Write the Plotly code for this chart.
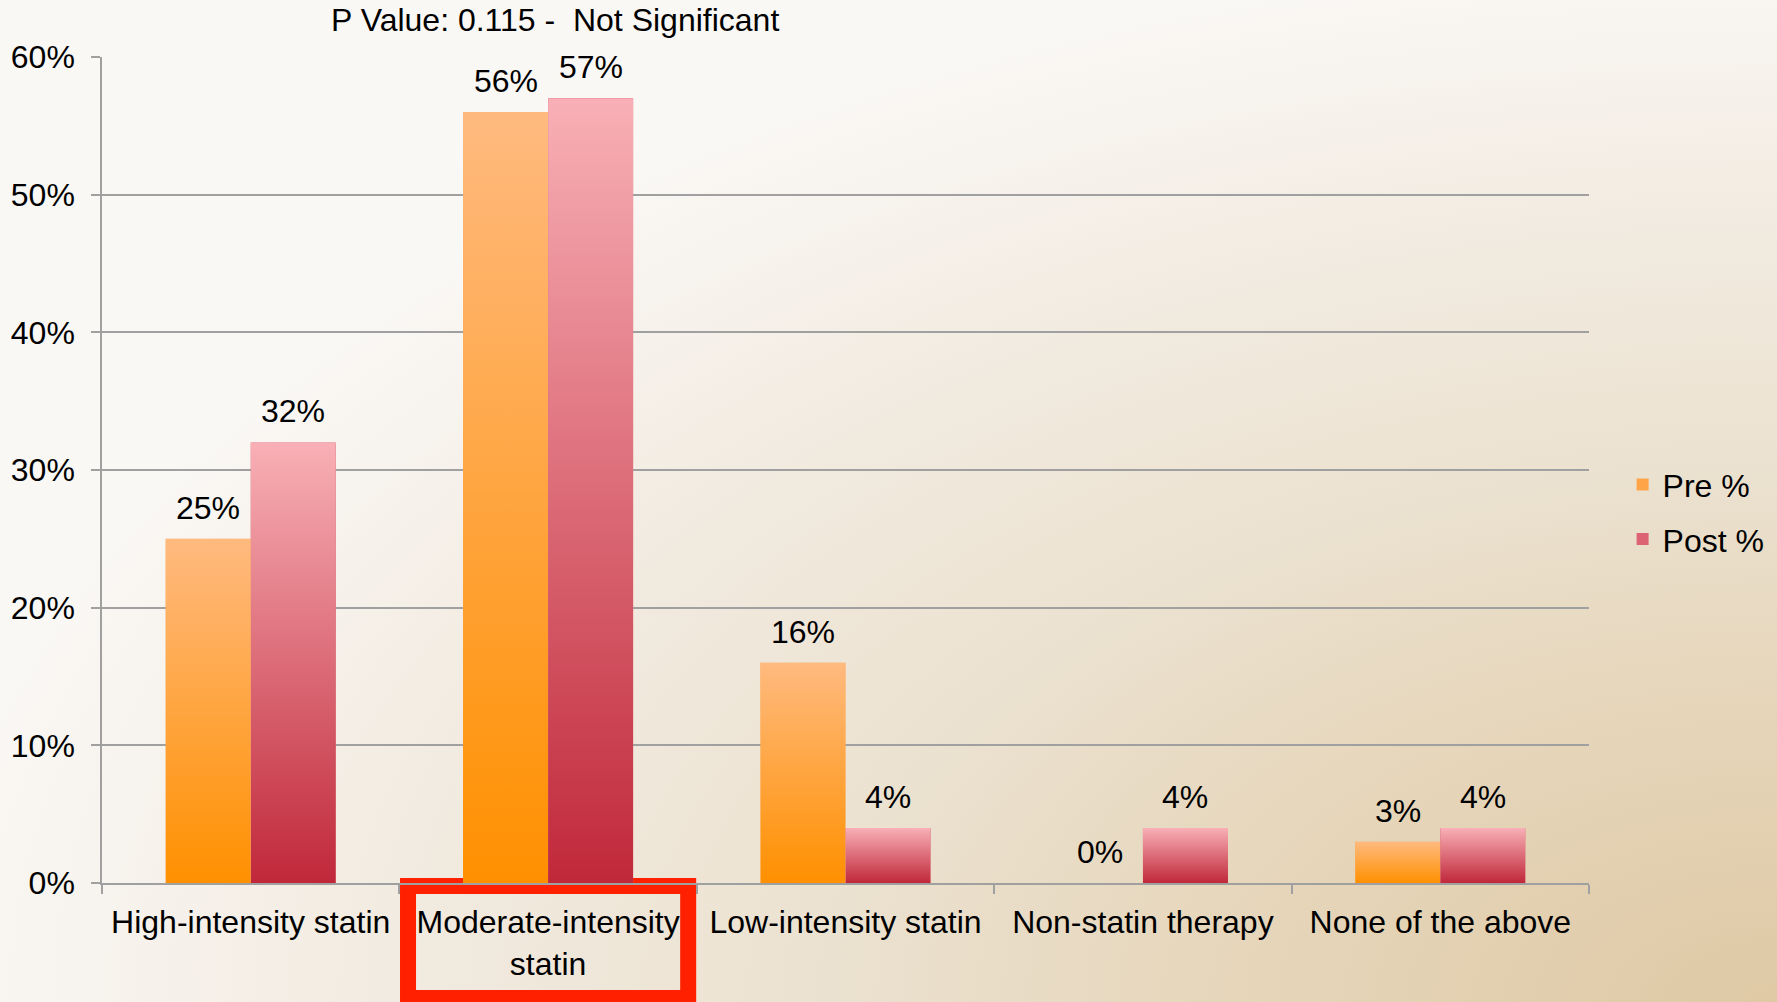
import base64
import plotly.graph_objects as go

# ---- data ----
categories = [
    "High-intensity statin",
    "Moderate-intensity<br>statin",
    "Low-intensity statin",
    "Non-statin therapy",
    "None of the above",
]
pre_pct = [25, 56, 16, 0, 3]
post_pct = [32, 57, 4, 4, 4]
series_names = ["Pre %", "Post %"]
title_text = "P Value: 0.115 -\u00a0 Not Significant"
y_ticks = [0, 10, 20, 30, 40, 50, 60]
y_tick_labels = [f"{t}%" for t in y_ticks]

FONT = "Liberation Sans, Arial, Helvetica, sans-serif"
FS = 32
W, H = 1777, 1002
M = dict(l=102, r=188, t=57, b=119)
PW = W - M["l"] - M["r"]
PH = H - M["t"] - M["b"]
BARGAP = 0.428
HALF = (1 - BARGAP) / 2  # width of one bar in category units


def svg_uri(svg):
    return "data:image/svg+xml;base64," + base64.b64encode(svg.encode()).decode()


def vgrad(top, bottom):
    return svg_uri(
        '<svg xmlns="http://www.w3.org/2000/svg" width="10" height="100" '
        'preserveAspectRatio="none" viewBox="0 0 10 100">'
        '<defs><linearGradient id="g" x1="0" y1="0" x2="0" y2="1">'
        f'<stop offset="0" stop-color="{top}"/><stop offset="1" stop-color="{bottom}"/>'
        '</linearGradient></defs><rect width="10" height="100" fill="url(#g)"/></svg>'
    )


bg_svg = svg_uri(
    '<svg xmlns="http://www.w3.org/2000/svg" width="1777" height="1002" viewBox="0 0 1777 1002">'
    '<defs><radialGradient id="r" cx="1" cy="1" r="1.05" gradientUnits="objectBoundingBox">'
    '<stop offset="0" stop-color="#DFC9A5"/>'
    '<stop offset="0.3" stop-color="#E6D6BB"/>'
    '<stop offset="0.5" stop-color="#EBE1CF"/>'
    '<stop offset="0.75" stop-color="#F2EBE1"/>'
    '<stop offset="1" stop-color="#FAF8F5"/>'
    '</radialGradient></defs><rect width="1777" height="1002" fill="url(#r)"/></svg>'
)

pre_grad = vgrad("#FFBA7F", "#FF9000")
post_grad = vgrad("#F8B0B6", "#C0283A")

fig = go.Figure()
fig.add_trace(go.Bar(x=categories, y=pre_pct, name=series_names[0],
                     marker=dict(color="#FFA548", line=dict(width=0)),
                     legendgroup="a"))
fig.add_trace(go.Bar(x=categories, y=post_pct, name=series_names[1],
                     marker=dict(color="#DC6472", line=dict(width=0)),
                     legendgroup="b"))

images = [dict(source=bg_svg, xref="paper", yref="paper",
               x=-M["l"] / PW, y=1 + M["t"] / PH,
               sizex=W / PW, sizey=H / PH,
               sizing="stretch", xanchor="left", yanchor="top", layer="below")]

# gradient fill and value label for every bar, placed by category index
annotations = []
for vals, grad, side in ((pre_pct, pre_grad, -1), (post_pct, post_grad, 1)):
    for i, v in enumerate(vals):
        left = i - HALF if side < 0 else i
        if v > 0:
            images.append(dict(source=grad, xref="x", yref="y", x=left, y=v,
                               sizex=HALF, sizey=v, sizing="stretch",
                               xanchor="left", yanchor="top", layer="above"))
        annotations.append(dict(x=left + HALF / 2, y=v, xref="x", yref="y",
                                text=f"{v}%", showarrow=False, yanchor="bottom",
                                yshift=11, font=dict(size=FS, color="#000000")))

annotations.append(dict(x=(555 - M["l"]) / PW, y=1 + 37 / PH,
                        xref="paper", yref="paper", text=title_text,
                        showarrow=False, yanchor="middle", xanchor="center",
                        font=dict(size=FS, color="#000000")))

# highlight frame around the second category label
frame = dict(type="rect", xref="x", yref="paper", x0=1 - 0.471, x1=1 + 0.471,
             y0=-3 / PH, y1=-115 / PH, line=dict(color="#FF2000", width=16),
             fillcolor="rgba(0,0,0,0)", layer="below")

fig.update_layout(
    width=W, height=H, margin=dict(**M, pad=0, autoexpand=False),
    paper_bgcolor="#FAF8F5", plot_bgcolor="rgba(0,0,0,0)",
    barmode="group", bargap=BARGAP, bargroupgap=0,
    font=dict(family=FONT, size=FS, color="#000000"),
    showlegend=True,
    legend=dict(x=1.0226, y=0.449, xanchor="left", yanchor="middle",
                bgcolor="rgba(0,0,0,0)", font=dict(size=FS),
                traceorder="grouped", tracegroupgap=10, itemwidth=30),
    images=images, annotations=annotations, shapes=[frame],
    xaxis=dict(type="category", categoryorder="array", categoryarray=categories,
               range=[-0.5, len(categories) - 0.5], tickson="boundaries",
               ticks="outside", ticklen=9, tickwidth=1.5, tickcolor="#A0A0A0",
               showline=True, linecolor="#A0A0A0", linewidth=1.5,
               showgrid=False, tickfont=dict(size=FS), zeroline=False,
               ticklabelstandoff=10, automargin=False),
    yaxis=dict(range=[0, 60], tickmode="array", tickvals=y_ticks,
               ticktext=y_tick_labels,
               ticks="outside", ticklen=9, tickwidth=1.5, tickcolor="#A0A0A0",
               showline=True, linecolor="#A0A0A0", linewidth=1.5,
               showgrid=True, gridcolor="#A0A0A0", gridwidth=1.5,
               zeroline=False, tickfont=dict(size=FS), ticklabelstandoff=10,
               automargin=False),
)

fig.write_html("out.html")
